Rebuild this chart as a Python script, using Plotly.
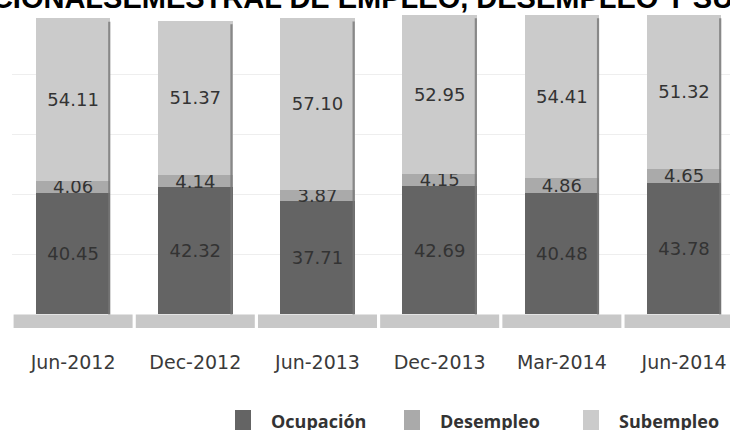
import plotly.graph_objects as go

periodos = ["Jun-2012", "Dec-2012", "Jun-2013", "Dec-2013", "Mar-2014", "Jun-2014"]
ocupacion = [40.45, 42.32, 37.71, 42.69, 40.48, 43.78]
desempleo = [4.06, 4.14, 3.87, 4.15, 4.86, 4.65]
subempleo = [54.11, 51.37, 57.10, 52.95, 54.41, 51.32]

series = [
    ("Ocupación", ocupacion, "#646464"),
    ("Desempleo", desempleo, "#aaaaaa"),
    ("Subempleo", subempleo, "#cbcbcb"),
]

fig = go.Figure()
for nombre, valores, color in series:
    fig.add_bar(
        x=periodos, y=valores, name=nombre,
        marker=dict(color=color, line=dict(width=0)),
        width=0.61,
        text=[f"{v:.2f}" for v in valores],
        textposition="inside", insidetextanchor="middle",
        constraintext="none",
        textfont=dict(family="DejaVu Sans", size=18, color="#333333"),
        showlegend=False, hoverinfo="skip",
    )

# piso "3D" bajo cada barra y sombra del borde derecho
for i, p in enumerate(periodos):
    total = ocupacion[i] + desempleo[i] + subempleo[i]
    fig.add_shape(type="rect", xref="x", yref="y", x0=i - 0.487, x1=i + 0.487,
                  y0=-4.5, y1=0, fillcolor="#c8c8c8", line_width=0, layer="above")
    fig.add_shape(type="rect", xref="x", yref="y", x0=i + 0.287, x1=i + 0.305,
                  y0=0, y1=total - 1.2, fillcolor="#777777", line_width=0,
                  opacity=0.8, layer="above")

# leyenda
leyenda_x = [223, 392, 571]
for (nombre, _, color), lx in zip(series, leyenda_x):
    fig.add_shape(type="rect", xref="paper", yref="paper",
                  xsizemode="pixel", ysizemode="pixel", xanchor=0, yanchor=0,
                  x0=lx, x1=lx + 16, y0=-114, y1=-82,
                  fillcolor=color, line_width=0)
    fig.add_annotation(text=nombre, xref="paper", yref="paper", x=0, y=0,
                       xanchor="left", yanchor="middle", showarrow=False,
                       xshift=lx + 34, yshift=-93,
                       font=dict(family="Open Sans", size=18, color="#333333", weight="bold"))

# titulo (recortado en la imagen original)
fig.add_annotation(text="NACIONALSEMESTRAL DE EMPLEO, DESEMPLEO Y SUBEMPLEO",
                   xref="paper", yref="paper", x=0, y=1, xanchor="left", yanchor="bottom",
                   xshift=-64, yshift=-2, showarrow=False,
                   font=dict(family="Liberation Sans", size=29, color="#000000", weight="bold"))

fig.update_layout(
    width=730, height=430,
    margin=dict(l=12, r=0, t=14, b=102),
    plot_bgcolor="white", paper_bgcolor="white",
    barmode="stack",
)
fig.update_xaxes(range=[-0.5, 5.376], showgrid=False, showline=False, zeroline=False,
                 ticks="", ticklabelstandoff=21,
                 tickfont=dict(family="DejaVu Sans", size=19, color="#3a3a3a"))
fig.update_yaxes(range=[-4.5, 100], tickvals=[20, 40, 60, 80, 100], showticklabels=False,
                 gridcolor="#eeeeee", gridwidth=1, zeroline=False, showline=False)

fig.write_html("out.html", config={"displayModeBar": False},
               post_script="document.body.style.margin='0';")
